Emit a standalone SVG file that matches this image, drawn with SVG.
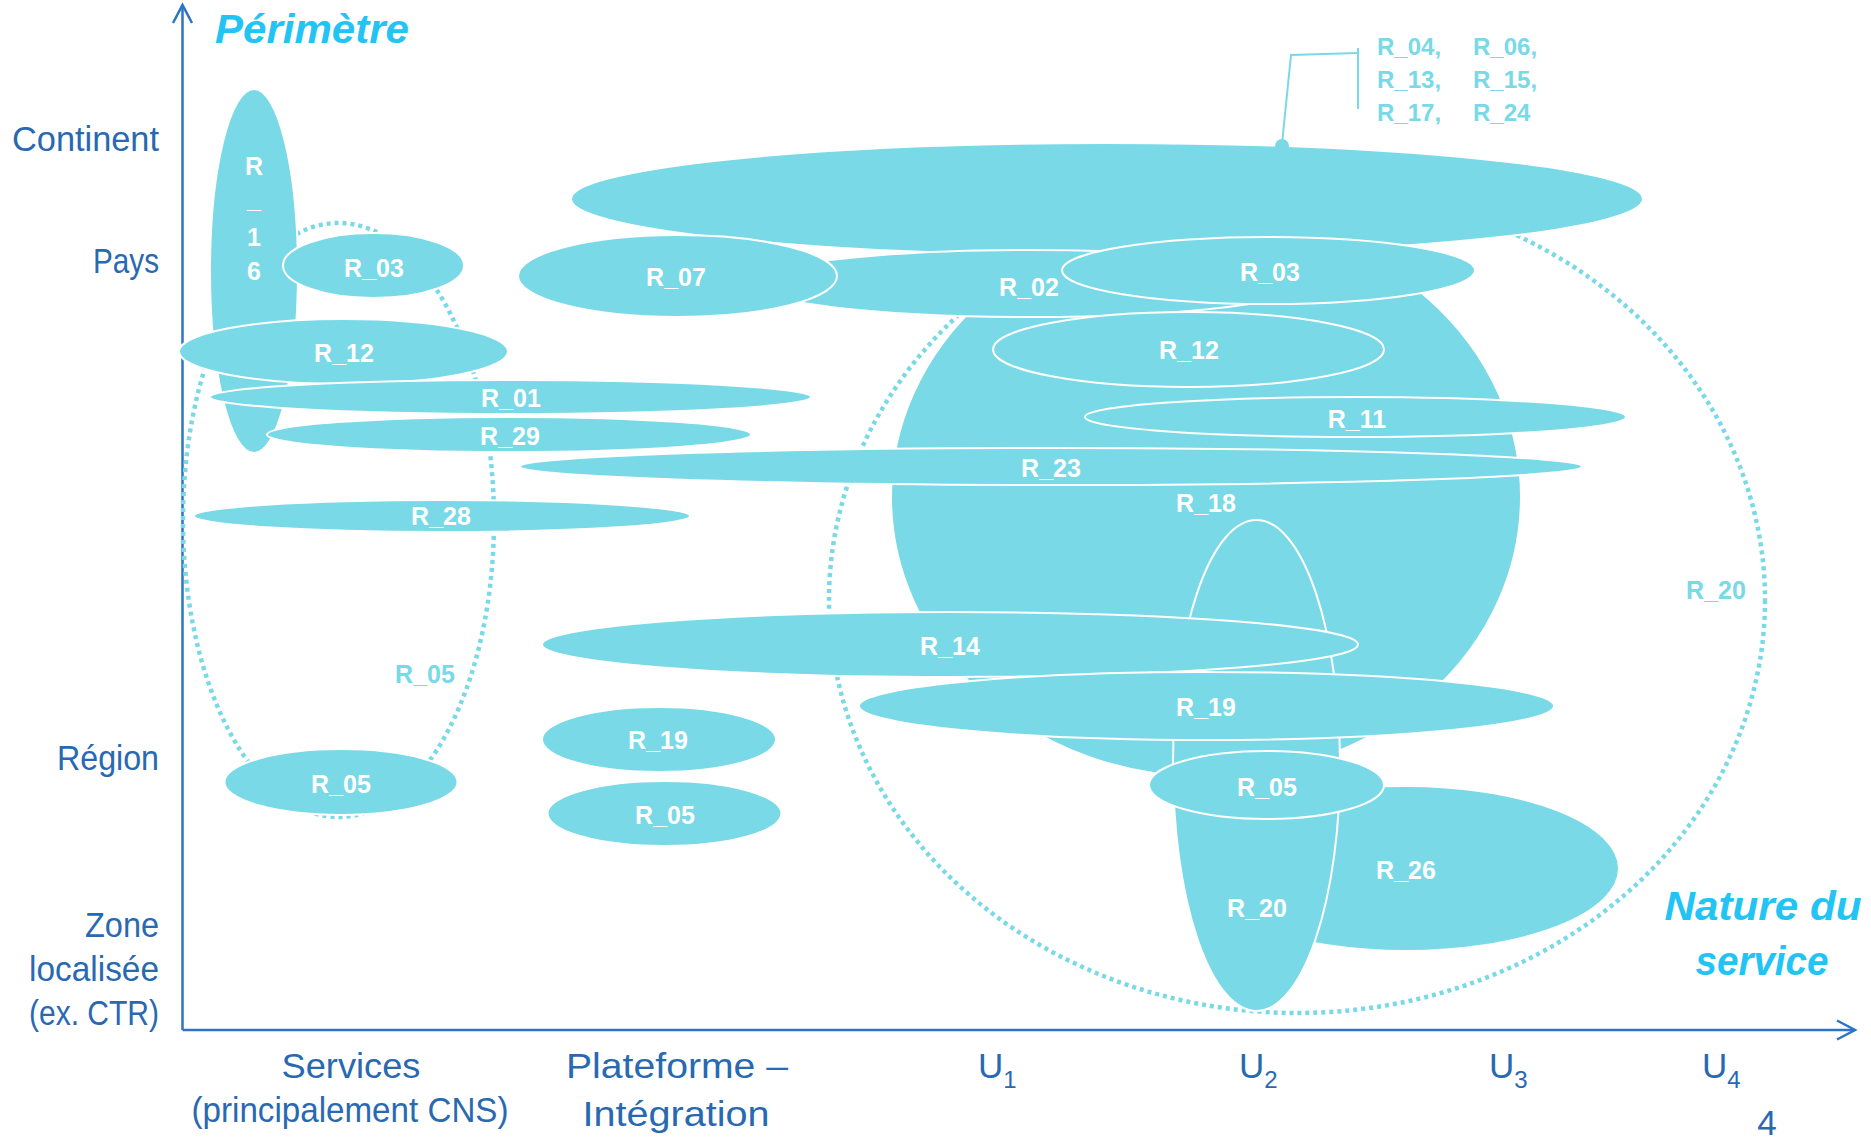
<svg xmlns="http://www.w3.org/2000/svg" width="1871" height="1140" viewBox="0 0 1871 1140">
<style>
.e{fill:#79D9E6;stroke:#FFFFFF;stroke-width:2}
.dot{fill:none;stroke:#79D9E6;stroke-width:4.5;stroke-dasharray:4 4}
.lbl{font-family:"Liberation Sans",Arial,sans-serif;font-weight:bold;font-size:25px;fill:#FFFFFF;text-anchor:middle}
.clbl{font-family:"Liberation Sans",Arial,sans-serif;font-weight:bold;font-size:25px;fill:#79D9E6;text-anchor:middle}
.call{font-family:"Liberation Sans",Arial,sans-serif;font-weight:bold;font-size:24px;fill:#79D9E6}
.ax{font-family:"Liberation Sans",Arial,sans-serif;font-size:35px;fill:#2869B2}
.ya{text-anchor:end}
.xa{text-anchor:middle}
.title{font-family:"Liberation Sans",Arial,sans-serif;font-weight:bold;font-style:italic;font-size:40px;fill:#21C4F4}
.axis{stroke:#2E74C6;stroke-width:2.5;fill:none}
</style>
<defs>
<marker id="arr" markerUnits="userSpaceOnUse" markerWidth="24" markerHeight="24" viewBox="-20 -12 24 24" refX="0" refY="0" orient="auto">
<path d="M-18,-9.5 L0,0 L-18,9.5" fill="none" stroke="#2E74C6" stroke-width="2.5"/>
</marker>
</defs>
<rect width="1871" height="1140" fill="#FFFFFF"/>

<g id="axes">
<line class="axis" x1="182.5" y1="1030" x2="182.5" y2="5" marker-end="url(#arr)"/>
<line class="axis" x1="182.5" y1="1030" x2="1855" y2="1030" marker-end="url(#arr)"/>
<text class="title" x="215" y="43" textLength="194" lengthAdjust="spacingAndGlyphs">Périmètre</text>
<text class="title" x="1763" y="920" text-anchor="middle" textLength="197" lengthAdjust="spacingAndGlyphs">Nature du</text>
<text class="title" x="1762" y="975" text-anchor="middle" textLength="133" lengthAdjust="spacingAndGlyphs">service</text>
<text class="ax ya" x="159" y="151" textLength="147" lengthAdjust="spacingAndGlyphs">Continent</text>
<text class="ax ya" x="159" y="273" textLength="66" lengthAdjust="spacingAndGlyphs">Pays</text>
<text class="ax ya" x="159" y="770" textLength="102" lengthAdjust="spacingAndGlyphs">Région</text>
<text class="ax ya" x="159" y="937" textLength="74" lengthAdjust="spacingAndGlyphs">Zone</text>
<text class="ax ya" x="159" y="981" textLength="130" lengthAdjust="spacingAndGlyphs">localisée</text>
<text class="ax ya" x="159" y="1025" textLength="130" lengthAdjust="spacingAndGlyphs">(ex. CTR)</text>
<text class="ax xa" x="351" y="1078" font-size="37" textLength="139" lengthAdjust="spacingAndGlyphs">Services</text>
<text class="ax xa" x="350" y="1122" font-size="34" textLength="317" lengthAdjust="spacingAndGlyphs">(principalement CNS)</text>
<text class="ax xa" x="677" y="1078" font-size="37" textLength="222" lengthAdjust="spacingAndGlyphs">Plateforme –</text>
<text class="ax xa" x="676" y="1126" font-size="37" textLength="187" lengthAdjust="spacingAndGlyphs">Intégration</text>
<text class="ax" x="978" y="1078">U<tspan font-size="24" dy="10">1</tspan></text>
<text class="ax" x="1239" y="1078">U<tspan font-size="24" dy="10">2</tspan></text>
<text class="ax" x="1489" y="1078">U<tspan font-size="24" dy="10">3</tspan></text>
<text class="ax" x="1702" y="1078">U<tspan font-size="24" dy="10">4</tspan></text>
<text class="ax xa" x="1767" y="1135" font-size="36">4</text>
</g>

<g id="R_05_zone">
<ellipse class="dot" cx="338.5" cy="520" rx="155.5" ry="297"/>
<text class="clbl" x="425" y="683">R_05</text>
</g>
<g id="R_20_zone">
<ellipse class="dot" cx="1297" cy="600" rx="468" ry="413"/>
<text class="clbl" x="1716" y="599">R_20</text>
</g>

<g id="R_16">
<ellipse class="e" cx="254" cy="271" rx="44" ry="182"/>
<text class="lbl" x="254" y="175">R</text>
<text class="lbl" x="254" y="208">_</text>
<text class="lbl" x="254" y="246">1</text>
<text class="lbl" x="254" y="280">6</text>
</g>
<g id="R_03_services">
<ellipse class="e" cx="373.5" cy="265.5" rx="90.5" ry="32.5"/>
<text class="lbl" x="374" y="277">R_03</text>
</g>
<g id="R_12_services">
<ellipse class="e" cx="343.5" cy="351.5" rx="164.5" ry="32.5"/>
<text class="lbl" x="344" y="362">R_12</text>
</g>
<g id="R_01">
<ellipse class="e" cx="510.5" cy="397" rx="300.5" ry="17"/>
<text class="lbl" x="511" y="407">R_01</text>
</g>
<g id="R_29">
<ellipse class="e" cx="509" cy="434.5" rx="242" ry="17.5"/>
<text class="lbl" x="510" y="445">R_29</text>
</g>
<g id="R_28">
<ellipse class="e" cx="442" cy="516" rx="248" ry="16"/>
<text class="lbl" x="441" y="525">R_28</text>
</g>
<g id="R_05_services">
<ellipse class="e" cx="341" cy="782" rx="116.6" ry="33"/>
<text class="lbl" x="341" y="793">R_05</text>
</g>
<g id="R_19_plateforme">
<ellipse class="e" cx="659" cy="739.5" rx="117" ry="32.5"/>
<text class="lbl" x="658" y="749">R_19</text>
</g>
<g id="R_05_plateforme">
<ellipse class="e" cx="664.5" cy="813.5" rx="117" ry="32.5"/>
<text class="lbl" x="665" y="824">R_05</text>
</g>

<g id="R_18">
<ellipse class="e" cx="1206" cy="497" rx="315" ry="280"/>
<text class="lbl" x="1206" y="512">R_18</text>
</g>
<g id="continent">
<ellipse class="e" cx="1107" cy="199" rx="536" ry="56"/>
</g>
<g id="R_26">
<ellipse class="e" cx="1406" cy="868.5" rx="213" ry="82.5"/>
<text class="lbl" x="1406" y="879">R_26</text>
</g>
<g id="R_02">
<ellipse class="e" cx="1029" cy="283.5" rx="278" ry="33.5"/>
<text class="lbl" x="1029" y="296">R_02</text>
</g>
<g id="R_07">
<ellipse class="e" cx="677.5" cy="276" rx="159.5" ry="41"/>
<text class="lbl" x="676" y="286">R_07</text>
</g>
<g id="R_03">
<ellipse class="e" cx="1268.5" cy="270.5" rx="206.5" ry="33.5"/>
<text class="lbl" x="1270" y="281">R_03</text>
</g>
<g id="R_12">
<ellipse class="e" cx="1188.5" cy="349.5" rx="195.5" ry="37.5"/>
<text class="lbl" x="1189" y="359">R_12</text>
</g>
<g id="R_11">
<ellipse class="e" cx="1355.5" cy="417" rx="270.5" ry="20"/>
<text class="lbl" x="1357" y="428">R_11</text>
</g>
<g id="R_23">
<ellipse class="e" cx="1051" cy="466.5" rx="531" ry="18.5"/>
<text class="lbl" x="1051" y="477">R_23</text>
</g>
<g id="R_20">
<ellipse class="e" cx="1256.5" cy="765.5" rx="83.5" ry="245.5"/>
<text class="lbl" x="1257" y="917">R_20</text>
</g>
<g id="R_14">
<ellipse class="e" cx="950" cy="644.5" rx="408" ry="32.5"/>
<text class="lbl" x="950" y="655">R_14</text>
</g>
<g id="R_19">
<ellipse class="e" cx="1206.5" cy="706" rx="347.5" ry="34"/>
<text class="lbl" x="1206" y="716">R_19</text>
</g>
<g id="R_05">
<ellipse class="e" cx="1266.5" cy="785" rx="117.5" ry="34"/>
<text class="lbl" x="1267" y="796">R_05</text>
</g>

<g id="connectors">
<circle cx="1282" cy="146" r="7" fill="#79D9E6"/>
<polyline points="1282,144 1291,55 1358,53" fill="none" stroke="#79D9E6" stroke-width="2"/>
<line x1="1358" y1="48" x2="1358" y2="109" stroke="#79D9E6" stroke-width="2"/>
</g>
<g id="callout_labels">
<text class="call" x="1377" y="55">R_04,</text>
<text class="call" x="1473" y="55">R_06,</text>
<text class="call" x="1377" y="88">R_13,</text>
<text class="call" x="1473" y="88">R_15,</text>
<text class="call" x="1377" y="121">R_17,</text>
<text class="call" x="1473" y="121">R_24</text>
</g>
</svg>
